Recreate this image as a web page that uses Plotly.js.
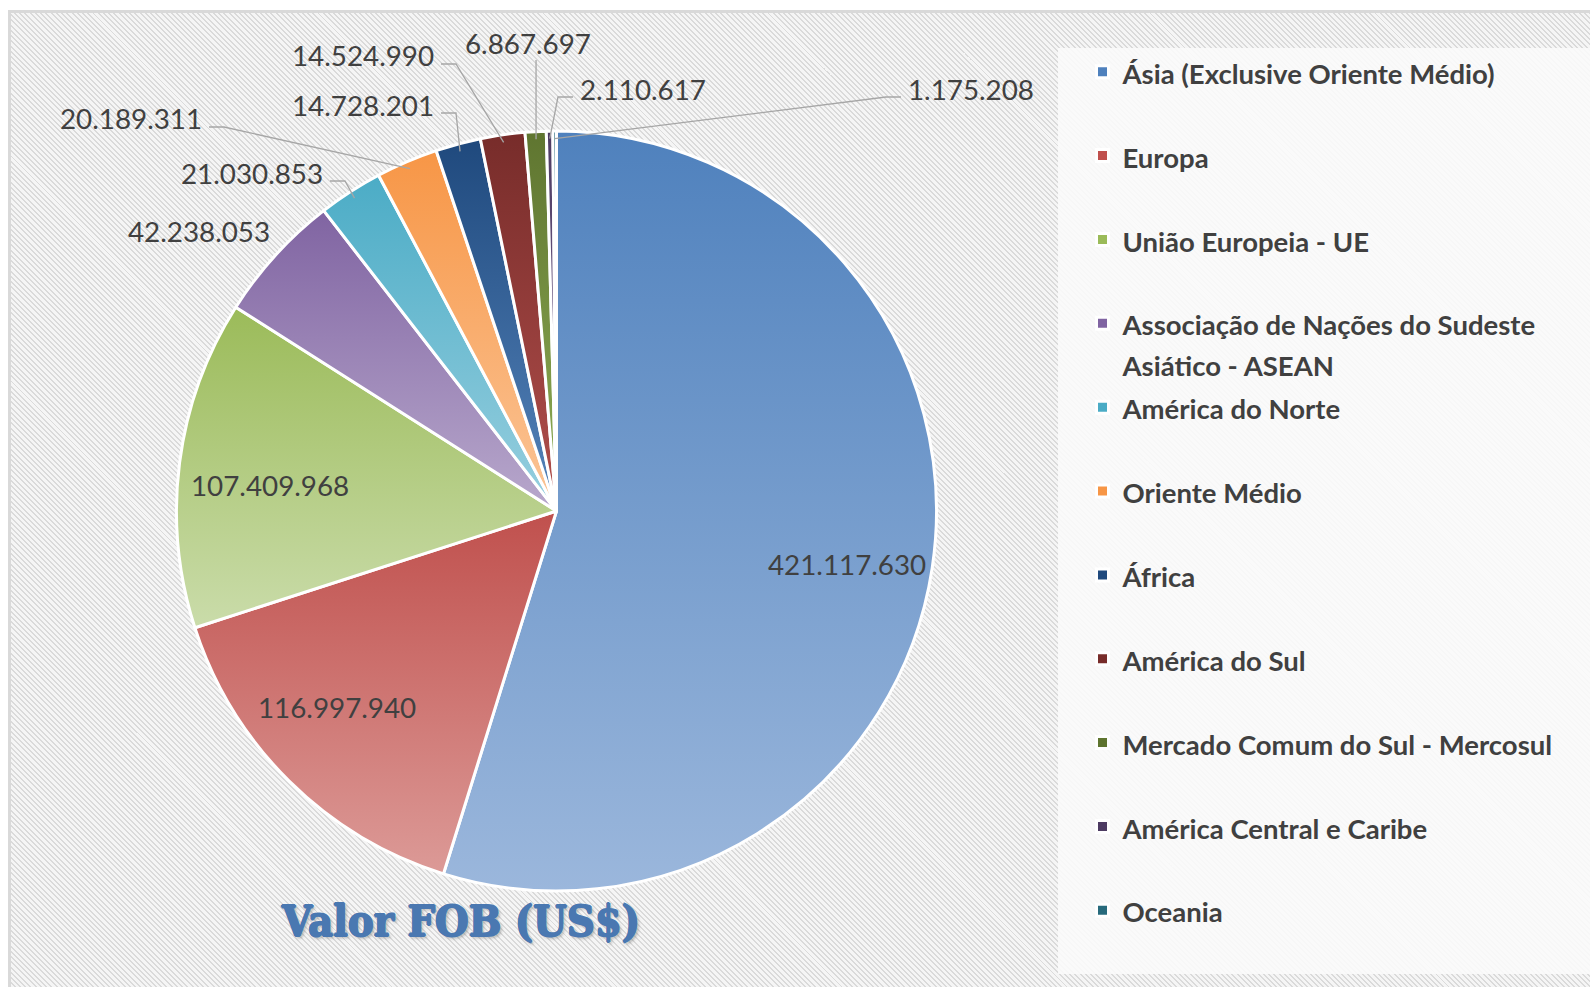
<!DOCTYPE html>
<html><head><meta charset="utf-8">
<script src="https://cdn.plot.ly/plotly-3.0.1.min.js"></script>
<style>
html,body{margin:0;padding:0;background:#fff;width:1590px;height:987px;overflow:hidden}
#bg{position:absolute;left:8px;top:10px;width:1582px;height:977px;box-sizing:border-box;border-left:3px solid #d9d9d9;border-top:3px solid #d9d9d9;background:repeating-linear-gradient(45deg,#f5f5f5 0px,#f5f5f5 2.3px,#dadada 2.3px,#dadada 3.7px)}
#chart{position:absolute;left:0;top:0;width:1590px;height:987px}
</style></head><body><div id="bg"></div><div id="chart"></div>
<script>
// ---- data ----
const categories = [
  "Ásia (Exclusive Oriente Médio)",
  "Europa",
  "União Europeia - UE",
  "Associação de Nações do Sudeste<br>Asiático - ASEAN",
  "América do Norte",
  "Oriente Médio",
  "África",
  "América do Sul",
  "Mercado Comum do Sul - Mercosul",
  "América Central e Caribe",
  "Oceania"
];
const values = [421117630, 116997940, 107409968, 42238053, 21030853, 20189311, 14728201, 14524990, 6867697, 2110617, 1175208];
const sliceColors = ["#4f81bd", "#c0504d", "#9bbb59", "#8064a2", "#4bacc6", "#f79646", "#1f497d", "#772c2a", "#5f7530", "#4d3b62", "#276a7c"];
const sliceLight  = ["#9bb7dc", "#dc9a97", "#cadcaa", "#b8a8cc", "#98cfdf", "#fbc597", "#5584bb", "#b24f4c", "#8fae55", "#7f6c9c", "#4ea6be"];
const chartTitle = "Valor FOB (US$)";

// ---- layout constants ----
const W = 1590, H = 987;
const CX = 556.5, CY = 511, R = 380;
// inside labels: nudges (px) from the default mid-angle position
const insideLabels = [
  {i: 0, dx: 1, dy: 9},
  {i: 1, dx: -14, dy: -11},
  {i: 2, dx: 4, dy: 12}
];
// outside labels: pixel position of the label edge and the side the leader line leaves from
const outsideLabels = [
  {i: 3, x: 199, y: 231, side: "none"},
  {i: 4, x: 325, y: 173, side: "right"},
  {i: 5, x: 204, y: 119, side: "right"},
  {i: 6, x: 436, y: 105, side: "right"},
  {i: 7, x: 436, y: 56,  side: "right"},
  {i: 8, x: 528, y: 44,  side: "below"},
  {i: 9, x: 578, y: 89,  side: "left"},
  {i: 10, x: 906, y: 89, side: "left"}
];

function fmt(v){ return String(v).replace(/\B(?=(\d{3})+(?!\d))/g, "."); }
const px2x = p => p / W, py2y = p => 1 - p / H;
const total = values.reduce((a, b) => a + b, 0);
const midAngles = [];
let cum = 0;
values.forEach(v => { midAngles.push((cum + v / 2) / total * 360); cum += v; });
function polar(angDeg, r){
  const a = angDeg * Math.PI / 180;
  return [CX + r * Math.sin(a), CY - r * Math.cos(a)];
}

const legendLabels = categories.map(c => {
  const parts = c.split("<br>").map(p => '<span style="font-size:27.5px">' + p + '</span>');
  if (parts.length === 1) parts.push("\u00a0");
  return parts.join("<br>");
});

const valueFont = {family: "Lato, 'Open Sans', sans-serif", size: 27.8, color: "#404040"};
const annotations = [];
const shapes = [];

insideLabels.forEach(o => {
  const [x, y] = polar(midAngles[o.i], R * 0.77);
  annotations.push({xref: "paper", yref: "paper", x: px2x(x + o.dx), y: py2y(y + o.dy), text: fmt(values[o.i]),
    showarrow: false, font: valueFont, xanchor: "center", yanchor: "middle"});
});

outsideLabels.forEach(o => {
  const anc = polar(midAngles[o.i], R * 0.98);
  let xanchor = "center";
  let path = null;
  if (o.side === "right") {
    xanchor = "right";
    path = `M${px2x(o.x + 5)},${py2y(o.y + 8)} L${px2x(o.x + 20)},${py2y(o.y + 8)} L${px2x(anc[0])},${py2y(anc[1])}`;
  } else if (o.side === "left") {
    xanchor = "left";
    path = `M${px2x(o.x - 5)},${py2y(o.y + 8)} L${px2x(o.x - 20)},${py2y(o.y + 8)} L${px2x(anc[0])},${py2y(anc[1])}`;
  } else if (o.side === "below") {
    path = `M${px2x(anc[0])},${py2y(o.y + 16)} L${px2x(anc[0])},${py2y(anc[1])}`;
  }
  annotations.push({xref: "paper", yref: "paper", x: px2x(o.x), y: py2y(o.y), text: fmt(values[o.i]),
    showarrow: false, font: valueFont, xanchor: xanchor, yanchor: "middle"});
  if (path) shapes.push({type: "path", xref: "paper", yref: "paper", path: path, layer: "above",
    line: {color: "#a6a6a6", width: 1.3}});
});

// legend panel background
shapes.unshift({type: "rect", xref: "paper", yref: "paper", x0: px2x(1058), x1: 1, y0: py2y(974), y1: py2y(48),
  fillcolor: "rgba(251,251,251,0.88)", line: {width: 0}, layer: "below"});

const trace = {
  type: "pie",
  labels: legendLabels,
  values: values,
  sort: false,
  direction: "clockwise",
  rotation: 0,
  textinfo: "none",
  hoverinfo: "none",
  marker: {colors: sliceColors, line: {color: "#ffffff", width: 3}},
  domain: {x: [px2x(CX - R), px2x(CX + R)], y: [py2y(CY + R), py2y(CY - R)]}
};

const titleColor = "#4a78b1";
const layout = {
  width: W, height: H,
  margin: {l: 0, r: 0, t: 0, b: 0},
  paper_bgcolor: "rgba(0,0,0,0)",
  plot_bgcolor: "rgba(0,0,0,0)",
  showlegend: true,
  legend: {
    x: px2x(1082.5), xanchor: "left", y: py2y(45), yanchor: "top",
    bgcolor: "rgba(0,0,0,0)", borderwidth: 0, valign: "top",
    font: {family: "Lato, 'Open Sans', sans-serif", size: 31.1, color: "#404040", weight: 700}
  },
  title: {
    text: chartTitle, x: px2x(461), xanchor: "center", y: py2y(921), yanchor: "middle",
    font: {family: "'DejaVu Serif Condensed', 'DejaVu Serif', serif", size: 43, weight: 700, color: titleColor,
      shadow: `0.9px 0 0 ${titleColor}, -0.9px 0 0 ${titleColor}, 0 0.9px 0 ${titleColor}, 0 -0.6px 0 ${titleColor}, 0 0 3px #ffffff, 2px 2px 3px rgba(80,80,80,0.45)`}
  },
  annotations: annotations,
  shapes: shapes
};

Plotly.newPlot("chart", [trace], layout, {displayModeBar: false, staticPlot: true}).then(gd => {
  // vertical gradient fill for each slice (dark at top, light at bottom)
  const svg = gd.querySelector("svg.main-svg");
  const defs = svg.querySelector("defs");
  const NS = "http://www.w3.org/2000/svg";
  gd.querySelectorAll("g.slice path.surface").forEach((p, k) => {
    const i = p.__data__ && p.__data__.i !== undefined ? p.__data__.i : k;
    const g = document.createElementNS(NS, "linearGradient");
    g.setAttribute("id", "sliceGrad" + i);
    g.setAttribute("x1", "0"); g.setAttribute("y1", "0");
    g.setAttribute("x2", "0"); g.setAttribute("y2", "1");
    [[0, sliceColors[i]], [1, sliceLight[i]]].forEach(([off, col]) => {
      const s = document.createElementNS(NS, "stop");
      s.setAttribute("offset", off);
      s.setAttribute("stop-color", col);
      g.appendChild(s);
    });
    defs.appendChild(g);
    p.style.fill = "url(#sliceGrad" + i + ")";
  });
});
</script></body></html>
